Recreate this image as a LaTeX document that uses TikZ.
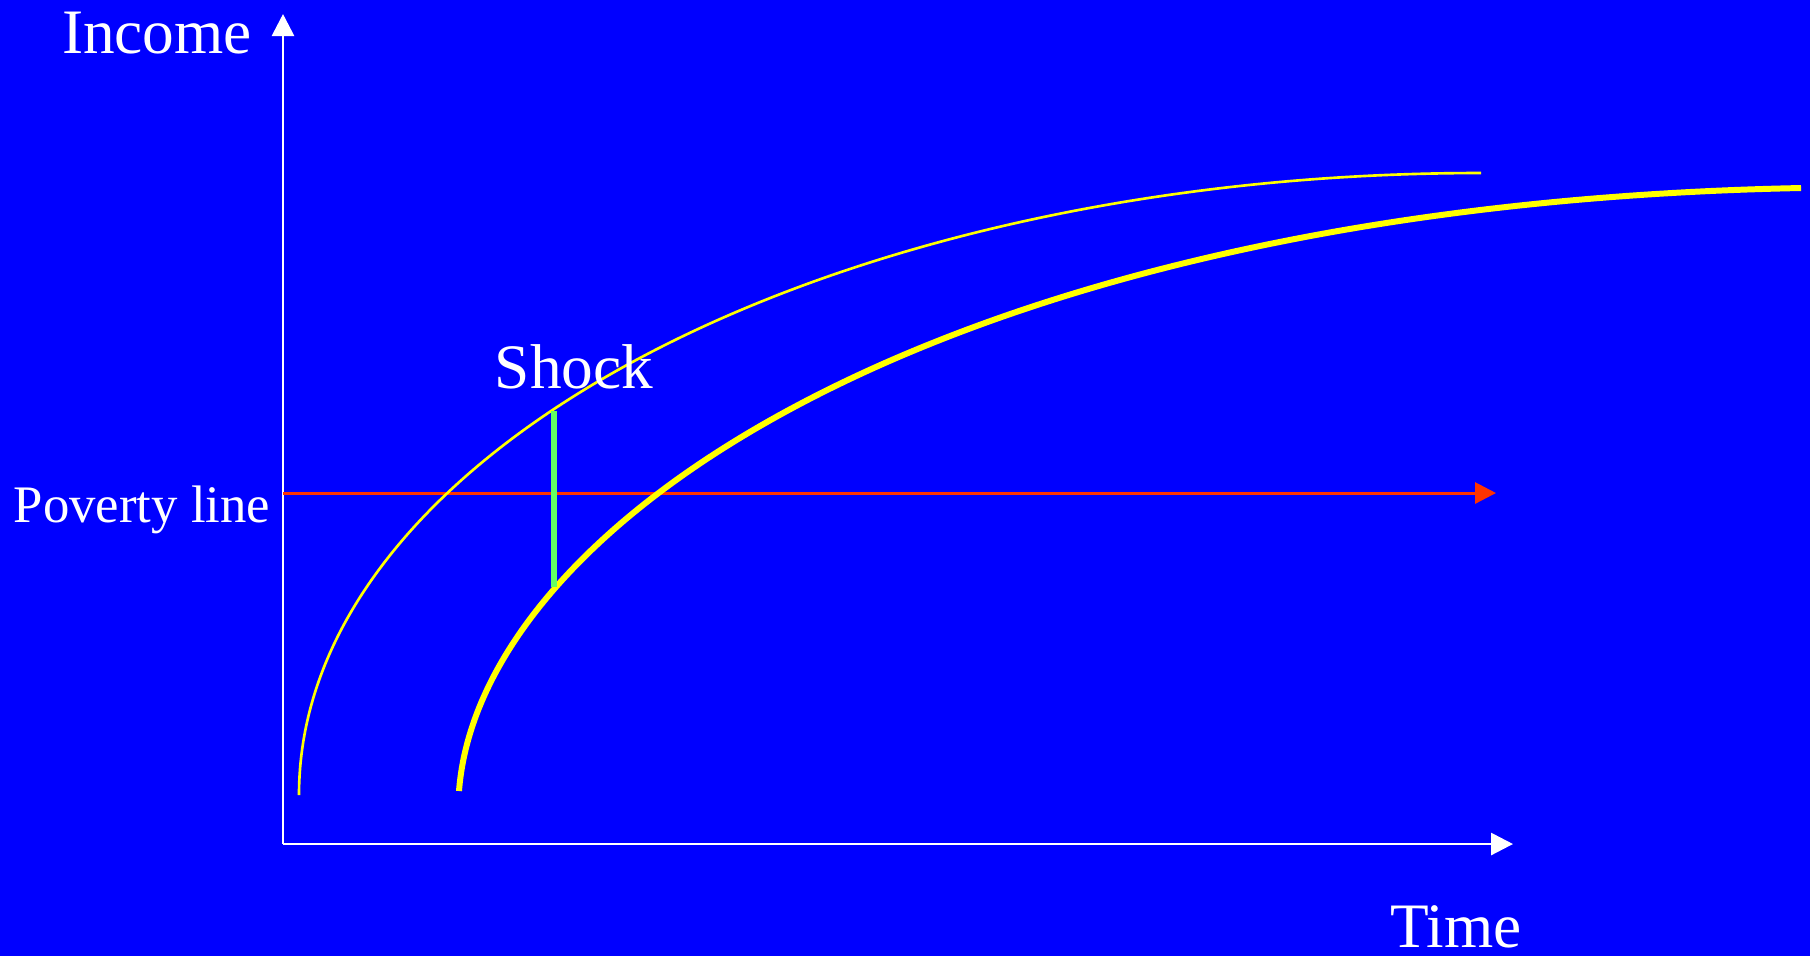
\documentclass[tikz,border=0pt]{standalone}
\usepackage{fontspec}
\setmainfont{Liberation Serif}
\usetikzlibrary{arrows.meta}

\definecolor{slideblue}{RGB}{0,0,255}
\definecolor{povred}{RGB}{255,51,0}
\definecolor{shockgreen}{RGB}{100,255,100}
\definecolor{incyellow}{RGB}{255,255,0}

\begin{document}
\begin{tikzpicture}[
  x=0.01cm, y=-0.01cm,
  % --- line styles ---
  axis/.style={
    white, line width=0.8pt,
    -{Triangle[length=2.2mm, width=2.2mm]}
  },
  povline/.style={
    povred, line width=0.85pt,
    -{Triangle[length=2.1mm, width=2.1mm]}
  },
  before/.style={incyellow, line width=0.75pt},
  after/.style={before, line width=1.7pt},
  shock/.style={shockgreen, line width=1.7pt},
  % --- label styles ---
  lbl/.style={
    text=white, inner sep=0pt, anchor=base,
    font=\fontsize{18}{20}\selectfont
  },
  lblsm/.style={lbl, font=\fontsize{15}{17}\selectfont},
]

% ══════════════════════════════════════════════
% BACKGROUND (fixes the page size)
% ══════════════════════════════════════════════

\fill[slideblue] (0,0) rectangle (1810,956);

% ══════════════════════════════════════════════
% AXES
% ══════════════════════════════════════════════

\coordinate (origin) at (283,844);
\coordinate (ytip)   at (283,14);
\coordinate (xtip)   at (1513,844);

\draw[axis] (origin) -- (ytip);
\draw[axis] (origin) -- (xtip);

\node[lbl] (income) at (157,53) {Income};
\node[lbl] (time) at (1456,947) {Time};

% ══════════════════════════════════════════════
% POVERTY LINE
% ══════════════════════════════════════════════

\coordinate (pstart) at (283,493);
\coordinate (pend)   at (1496,493);
\draw[povline] (pstart) -- (pend);

\node[lblsm] (poverty) at (142,522) {Poverty line};

% ══════════════════════════════════════════════
% INCOME PATHS
% ══════════════════════════════════════════════

% path before the shock
\coordinate (b0) at (299,795);
\coordinate (b1) at (1481,173);
\draw[before] (b0) .. controls (299,451) and (829,173) .. (b1);

% path after the shock
\coordinate (a0) at (459,791);
\coordinate (a1) at (1801,188);
\draw[after] (a0) .. controls (480,520) and (950,205) .. (a1);

% ══════════════════════════════════════════════
% SHOCK
% ══════════════════════════════════════════════

\coordinate (stop) at (554,411);
\coordinate (sbot) at (554,587);
\draw[shock] (stop) -- (sbot);

\node[lbl] (shocklbl) at (574,388) {Shock};

\end{tikzpicture}
\end{document}
